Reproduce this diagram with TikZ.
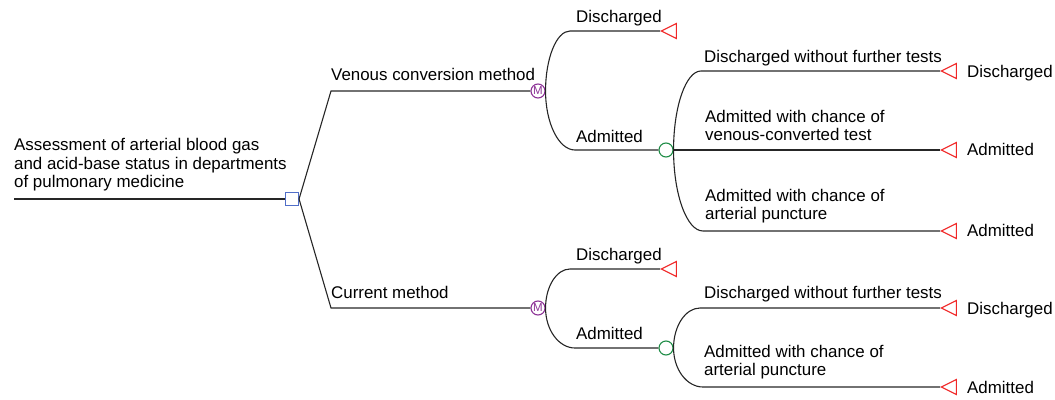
\documentclass[tikz,border=0pt]{standalone}
\usepackage{fontspec}
\setmainfont{Liberation Sans}
\usetikzlibrary{calc}
\usetikzlibrary{shapes.geometric}

\definecolor{decisionblue}{RGB}{80,110,200}
\definecolor{markovpurple}{RGB}{140,50,150}
\definecolor{chancegreen}{RGB}{30,140,70}
\definecolor{terminalred}{RGB}{240,40,40}

\newcommand{\treefont}{\fontsize{16.9}{18.5}\selectfont}
\newcommand{\drawArcBranch}[3]{
	\draw[branch] (#1) .. controls ($(#1)!0.55!(#1|-#2)$) and ($(#2)!0.55!(#1|-#2)$) .. (#2) -- (#3);
}

\tikzset{
	branch/.style={draw=black!85, line width=1.1pt},
	decision/.style={rectangle, draw=decisionblue, line width=1.1pt, minimum size=13pt, inner sep=0pt},
	markov/.style={circle, draw=markovpurple, text=markovpurple, line width=1.1pt, minimum size=14pt, inner sep=0pt, font=\fontsize{11.5}{11.5}\selectfont},
	chance/.style={circle, draw=chancegreen, line width=1.1pt, minimum size=14pt, inner sep=0pt},
	terminal/.style={isosceles triangle, isosceles triangle stretches, shape border rotate=180, draw=terminalred, line width=1.1pt, minimum width=15pt, minimum height=15pt, inner sep=0pt, anchor=apex},
	branchtext/.style={anchor=south west, inner sep=0pt, text depth=0pt, align=left},
	outcometext/.style={anchor=base west, inner sep=0pt}
}

\begin{document}
\begin{tikzpicture}[x=1pt, y=-1pt, font=\treefont]
	\useasboundingbox (0,0) rectangle (1055,399);

	% decision
	\coordinate (start) at (14,199);
	\node[decision] (dec) at (292,199) {};
	\coordinate (venous_B) at (331,91);
	\coordinate (current_B) at (331,308);
	\node[markov] (venous_M) at (538,91) {M};
	\node[markov] (current_M) at (538,308) {M};

	\draw[branch] (start) -- (dec.west);
	\draw[branch] (dec.east) -- (venous_B) -- (venous_M.west);
	\draw[branch] (dec.east) -- (current_B) -- (current_M.west);

	% venous conversion method
	\coordinate (venous_D) at (570,31);
	\coordinate (venous_A) at (575,150);
	\node[terminal] (venous_DT) at (660,31) {};
	\node[chance] (venous_C) at (666,150) {};
	\coordinate (venous_C1) at (701,71);
	\coordinate (venous_C3) at (703,231);
	\node[terminal] (venous_T1) at (940,71) {};
	\node[terminal] (venous_T2) at (940,150) {};
	\node[terminal] (venous_T3) at (940,231) {};

	\drawArcBranch{venous_M.east}{venous_D}{venous_DT.apex}
	\drawArcBranch{venous_M.east}{venous_A}{venous_C.west}
	\drawArcBranch{venous_C.east}{venous_C1}{venous_T1.apex}
	\draw[branch] (venous_C.east) -- (venous_T2.apex);
	\drawArcBranch{venous_C.east}{venous_C3}{venous_T3.apex}

	% current method
	\coordinate (current_D) at (570,269);
	\coordinate (current_A) at (575,348);
	\node[terminal] (current_DT) at (660,269) {};
	\node[chance] (current_C) at (666,348) {};
	\coordinate (current_C1) at (700,308);
	\coordinate (current_C2) at (703,387);
	\node[terminal] (current_T1) at (940,308) {};
	\node[terminal] (current_T2) at (940,387) {};

	\drawArcBranch{current_M.east}{current_D}{current_DT.apex}
	\drawArcBranch{current_M.east}{current_A}{current_C.west}
	\drawArcBranch{current_C.east}{current_C1}{current_T1.apex}
	\drawArcBranch{current_C.east}{current_C2}{current_T2.apex}

	% branch texts
	\node[branchtext] (root_L) at (14,188) {Assessment of arterial blood gas\\and acid-base status in departments\\of pulmonary medicine};
	\node[branchtext] (venous_L) at (331,81) {Venous conversion method};
	\node[branchtext] (current_L) at (331,298.5) {Current method};
	\node[branchtext] (venous_DL) at (576,23) {Discharged};
	\node[branchtext] (venous_AL) at (576,142.5) {Admitted};
	\node[branchtext] (current_DL) at (576,260.7) {Discharged};
	\node[branchtext] (current_AL) at (576,339.3) {Admitted};
	\node[branchtext] (venous_L1) at (704,62.7) {Discharged without further tests};
	\node[branchtext] (venous_L2) at (705,141) {Admitted with chance of\\venous-converted test};
	\node[branchtext] (venous_L3) at (705,220) {Admitted with chance of\\arterial puncture};
	\node[branchtext] (current_L1) at (704,298.3) {Discharged without further tests};
	\node[branchtext] (current_L2) at (704,376) {Admitted with chance of\\arterial puncture};

	% outcomes
	\node[outcometext] (venous_O1) at (967,77) {Discharged};
	\node[outcometext] (venous_O2) at (967,155) {Admitted};
	\node[outcometext] (venous_O3) at (967,236.7) {Admitted};
	\node[outcometext] (current_O1) at (967,314.3) {Discharged};
	\node[outcometext] (current_O2) at (967,393.3) {Admitted};
\end{tikzpicture}
\end{document}
